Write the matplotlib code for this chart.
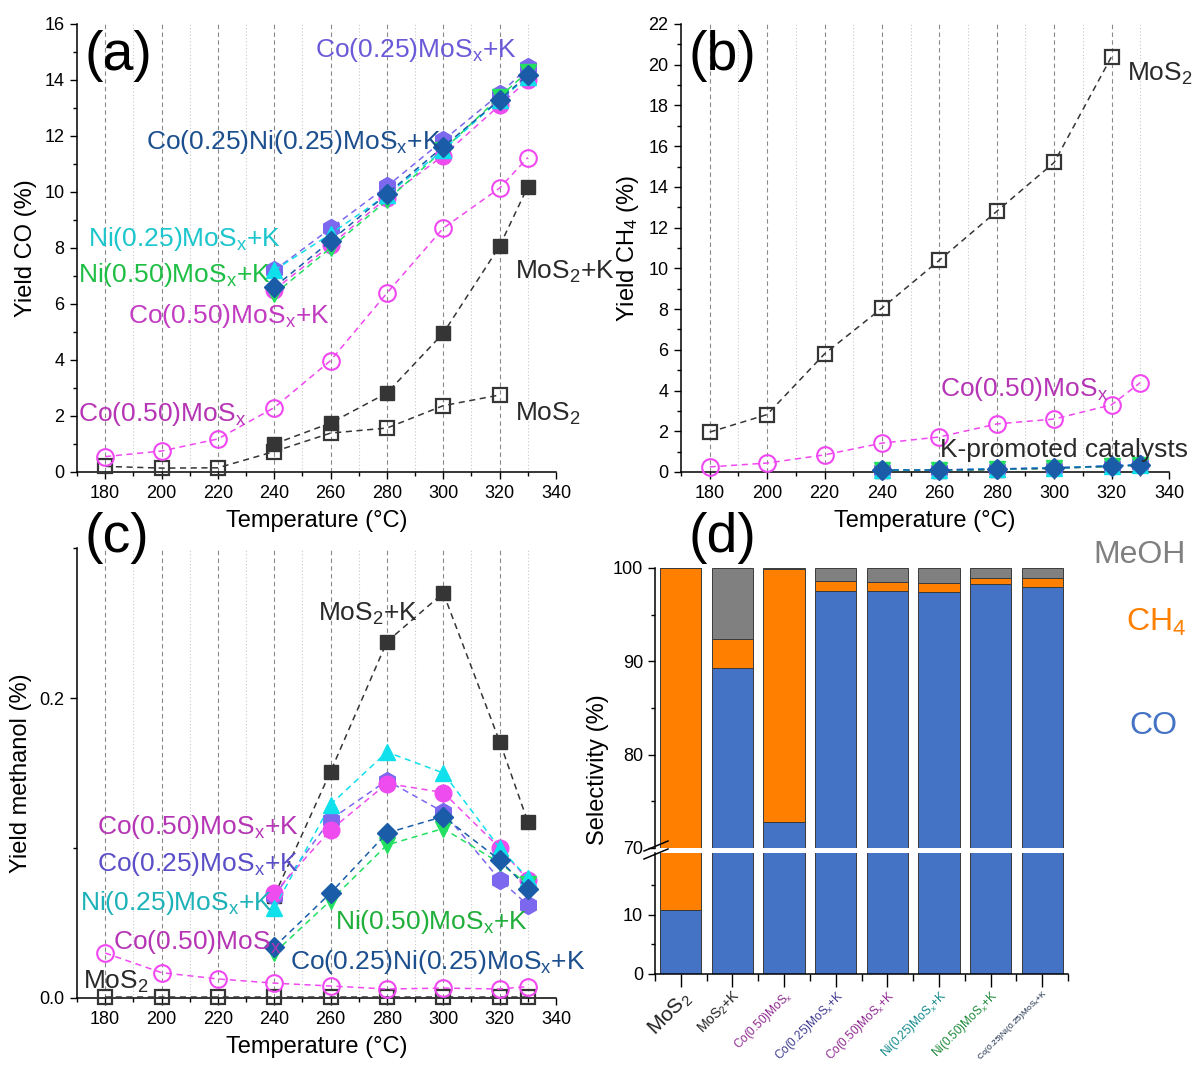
import matplotlib
matplotlib.use('Agg')
import matplotlib.pyplot as plt
from matplotlib.ticker import MultipleLocator, FixedLocator
from matplotlib.lines import Line2D

plt.rcParams['font.family'] = ['Liberation Sans', 'DejaVu Sans']
plt.rcParams['mathtext.fontset'] = 'custom'
plt.rcParams['mathtext.rm'] = 'Liberation Sans'
plt.rcParams['mathtext.it'] = 'Liberation Sans:italic'
plt.rcParams['mathtext.default'] = 'regular'

# ---------------- data ----------------
T_all = [180, 200, 220, 240, 260, 280, 300, 320, 330]
T_mos2 = [180, 200, 220, 240, 260, 280, 300, 320]
T_k = [240, 260, 280, 300, 320, 330]

# (a) Yield CO (%)
co_mos2 = [0.2, 0.14, 0.15, 0.73, 1.39, 1.57, 2.37, 2.75]
co_mos2k = [1.0, 1.75, 2.82, 4.96, 8.07, 10.19]
co_co050 = [0.55, 0.75, 1.18, 2.3, 3.98, 6.39, 8.71, 10.14, 11.23]
co_co050k = [6.5, 8.1, 9.8, 11.3, 13.1, 14.0]
co_co025k = [7.2, 8.7, 10.2, 11.85, 13.5, 14.45]
co_ni050k = [6.35, 8.0, 9.7, 11.5, 13.4, 14.3]
co_ni025k = [7.2, 8.5, 9.9, 11.5, 13.3, 14.1]
co_coni = [6.6, 8.25, 9.93, 11.62, 13.29, 14.18]

# (b) Yield CH4 (%)
ch4_mos2 = [1.96, 2.82, 5.8, 8.05, 10.4, 12.8, 15.2, 20.4]
ch4_co050 = [0.25, 0.44, 0.84, 1.42, 1.72, 2.36, 2.6, 3.3, 4.39]
ch4_mos2k = [0.05, 0.07, 0.12, 0.18, 0.28, 0.35]
ch4_co050k = [0.1, 0.1, 0.15, 0.2, 0.3, 0.35]
ch4_co025k = [0.1, 0.1, 0.15, 0.2, 0.3, 0.38]
ch4_ni050k = [0.08, 0.09, 0.13, 0.19, 0.28, 0.33]
ch4_ni025k = [0.1, 0.1, 0.15, 0.2, 0.3, 0.36]
ch4_coni = [0.1, 0.1, 0.14, 0.2, 0.29, 0.34]

# (c) Yield methanol (%)
me_mos2 = [0.001, 0.001, 0.001, 0.001, 0.001, 0.001, 0.001, 0.001, 0.001]
me_co050 = [0.030, 0.0169, 0.0127, 0.0099, 0.008, 0.006, 0.0066, 0.006, 0.0076]
me_mos2k = [0.068, 0.151, 0.2375, 0.27, 0.171, 0.1175]
me_co050k = [0.070, 0.112, 0.143, 0.137, 0.100, 0.079]
me_co025k = [0.068, 0.119, 0.145, 0.124, 0.079, 0.062]
me_ni050k = [0.030, 0.065, 0.102, 0.113, 0.090, 0.076]
me_ni025k = [0.060, 0.129, 0.164, 0.150, 0.100, 0.080]
me_coni = [0.034, 0.070, 0.110, 0.121, 0.092, 0.073]

# (d) Selectivity (%)
catalysts = [r'MoS$_2$', r'MoS$_2$+K', r'Co(0.50)MoS$_x$', r'Co(0.25)MoS$_x$+K',
             r'Co(0.50)MoS$_x$+K', r'Ni(0.25)MoS$_x$+K', r'Ni(0.50)MoS$_x$+K',
             r'Co(0.25)Ni(0.25)MoS$_x$+K']
sel_co = [10.8, 89.3, 72.8, 97.5, 97.5, 97.4, 98.3, 98.0]
sel_ch4 = [89.2, 3.1, 27.1, 1.1, 1.0, 1.0, 0.6, 0.9]
sel_meoh = [0.0, 7.6, 0.1, 1.4, 1.5, 1.6, 1.1, 1.1]

# ---------------- styles ----------------
DARK = '#353535'
st = {
    'mos2':   dict(color=DARK, marker='s', mfc='none', mec=DARK, ms=10, mew=1.6),
    'mos2k':  dict(color=DARK, marker='s', mfc=DARK, mec=DARK, ms=10, mew=1.0),
    'co050':  dict(color='#F048F0', marker='o', mfc='none', mec='#F048F0', ms=12, mew=1.5),
    'co050k': dict(color='#EE4CEE', marker='o', mfc='#EE4CEE', mec='#EE4CEE', ms=12, mew=1.0),
    'co025k': dict(color='#7B68EE', marker='h', mfc='#7B68EE', mec='#7B68EE', ms=13, mew=1.0),
    'ni050k': dict(color='#22E060', marker='v', mfc='#22E060', mec='#22E060', ms=12, mew=1.0),
    'ni025k': dict(color='#10E0EC', marker='^', mfc='#10E0EC', mec='#10E0EC', ms=12, mew=1.0),
    'coni':   dict(color='#1A5CA8', marker='D', mfc='#1A5CA8', mec='#1A5CA8', ms=10, mew=1.0),
}

W, H = 1193, 1065
fig = plt.figure(figsize=(W / 100, H / 100), dpi=100)

AXLAB = 17
TICKLAB = 13


def rect(l, r, t, b):
    return [l / W, 1 - b / H, (r - l) / W, (b - t) / H]


def style_line_axes(ax, ymax, ymajor, yminor):
    ax.set_xlim(170, 340)
    ax.set_ylim(0, ymax)
    ax.xaxis.set_major_locator(FixedLocator([180, 200, 220, 240, 260, 280, 300, 320, 340]))
    ax.xaxis.set_minor_locator(MultipleLocator(10))
    ax.yaxis.set_major_locator(MultipleLocator(ymajor))
    ax.yaxis.set_minor_locator(MultipleLocator(yminor))
    for s in ['top', 'right']:
        ax.spines[s].set_visible(False)
    for s in ['left', 'bottom']:
        ax.spines[s].set_linewidth(1.1)
    ax.tick_params(which='major', direction='out', length=5, width=1.0, labelsize=TICKLAB, pad=4)
    ax.tick_params(which='minor', direction='out', length=3, width=1.0)
    for x in [180, 200, 220, 240, 260, 280, 300, 320]:
        ax.axvline(x, color='#8a8a8a', lw=0.8, ls=(0, (4, 3)), zorder=0)
    for x in [190, 210, 230, 250, 270, 290, 310, 330]:
        ax.axvline(x, color='#c8c8c8', lw=0.8, ls=(0, (1, 2)), zorder=0)
    ax.set_xlabel('Temperature (°C)', fontsize=AXLAB, labelpad=6)


def plot_series(ax, x, y, key, z):
    s = st[key]
    ax.plot(x, y, ls=(0, (4, 3)), lw=1.1, color=s['color'], marker=s['marker'],
            mfc=s['mfc'], mec=s['mec'], ms=s['ms'], mew=s['mew'],
            clip_on=False, zorder=z)


# ---------------- (a) ----------------
axa = fig.add_axes(rect(77, 556, 24, 472))
style_line_axes(axa, 16, 2, 1)
plot_series(axa, T_mos2, co_mos2, 'mos2', 3)
plot_series(axa, T_k, co_mos2k, 'mos2k', 3)
plot_series(axa, T_all, co_co050, 'co050', 3)
plot_series(axa, T_k, co_co050k, 'co050k', 4)
plot_series(axa, T_k, co_co025k, 'co025k', 5)
plot_series(axa, T_k, co_ni050k, 'ni050k', 6)
plot_series(axa, T_k, co_ni025k, 'ni025k', 7)
plot_series(axa, T_k, co_coni, 'coni', 8)
axa.set_ylabel('Yield CO (%)', fontsize=AXLAB, labelpad=5)

# ---------------- (b) ----------------
axb = fig.add_axes(rect(681, 1169, 24, 472))
style_line_axes(axb, 22, 2, 1)
plot_series(axb, T_mos2, ch4_mos2, 'mos2', 3)
plot_series(axb, T_all, ch4_co050, 'co050', 3)
plot_series(axb, T_k, ch4_mos2k, 'mos2k', 3)
plot_series(axb, T_k, ch4_co050k, 'co050k', 4)
plot_series(axb, T_k, ch4_co025k, 'co025k', 5)
plot_series(axb, T_k, ch4_ni050k, 'ni050k', 6)
plot_series(axb, T_k, ch4_ni025k, 'ni025k', 7)
plot_series(axb, T_k, ch4_coni, 'coni', 8)
axb.set_ylabel(r'Yield CH$_4$ (%)', fontsize=AXLAB, labelpad=5)

# ---------------- (c) ----------------
axc = fig.add_axes(rect(77, 556, 548, 998))
style_line_axes(axc, 0.3, 0.2, 0.1)
axc.yaxis.set_major_formatter(matplotlib.ticker.FormatStrFormatter('%.1f'))
plot_series(axc, T_all, me_mos2, 'mos2', 3)
plot_series(axc, T_all, me_co050, 'co050', 3)
plot_series(axc, T_k, me_mos2k, 'mos2k', 3)
plot_series(axc, T_k, me_co025k, 'co025k', 4)
plot_series(axc, T_k, me_co050k, 'co050k', 5)
plot_series(axc, T_k, me_ni050k, 'ni050k', 6)
plot_series(axc, T_k, me_ni025k, 'ni025k', 7)
plot_series(axc, T_k, me_coni, 'coni', 8)
axc.set_ylabel('Yield methanol (%)', fontsize=AXLAB, labelpad=5)

# ---------------- (d) ----------------
axd_top = fig.add_axes(rect(655, 1068, 568, 848))
axd_bot = fig.add_axes(rect(655, 1068, 853, 974))
C_CO, C_CH4, C_ME = '#4472C4', '#FF8000', '#808080'
xs = list(range(len(catalysts)))
bottom_ch4 = [a for a in sel_co]
bottom_me = [a + b for a, b in zip(sel_co, sel_ch4)]
for ax in (axd_top, axd_bot):
    ax.bar(xs, sel_co, width=0.8, color=C_CO, edgecolor='#3a3a3a', lw=0.7)
    ax.bar(xs, sel_ch4, width=0.8, bottom=bottom_ch4, color=C_CH4, edgecolor='#3a3a3a', lw=0.7)
    ax.bar(xs, sel_meoh, width=0.8, bottom=bottom_me, color=C_ME, edgecolor='#3a3a3a', lw=0.7)
    ax.set_xlim(-0.5, 7.5)
    for s in ['top', 'right']:
        ax.spines[s].set_visible(False)
    ax.spines['left'].set_linewidth(1.1)
    ax.spines['bottom'].set_linewidth(1.1)
    ax.tick_params(which='major', direction='out', length=5, width=1.0, labelsize=TICKLAB)
    ax.tick_params(which='minor', direction='out', length=3, width=1.0)

axd_top.set_ylim(70, 100)
axd_top.yaxis.set_major_locator(MultipleLocator(10))
axd_top.yaxis.set_minor_locator(MultipleLocator(5))
axd_top.spines['bottom'].set_visible(False)
axd_top.tick_params(axis='x', which='both', bottom=False, labelbottom=False)

axd_bot.set_ylim(0, 20.5)
axd_bot.yaxis.set_major_locator(FixedLocator([0, 10]))
axd_bot.yaxis.set_minor_locator(FixedLocator([5, 15]))
axd_bot.set_xticks(xs)
axd_bot.xaxis.set_minor_locator(FixedLocator([i - 0.5 for i in range(len(catalysts) + 1)]))
axd_bot.tick_params(axis='x', which='major', length=9, pad=1)
axd_bot.tick_params(axis='x', which='minor', length=5)
axd_bot.set_xticklabels(catalysts, rotation=45, ha='right', rotation_mode='anchor')
lab_colors = ['#222222', '#222222', '#8E2A90', '#3F3A90', '#8E2A90', '#138A8C', '#1E8A3A', '#10243F']
lab_sizes = [15, 10, 8.5, 8.5, 8.5, 8.5, 8.5, 6]
for t, c, s in zip(axd_bot.get_xticklabels(), lab_colors, lab_sizes):
    t.set_color(c)
    t.set_fontsize(s)

# break marks
for yb in (846, 854):
    fig.add_artist(Line2D([644 / W, 668 / W], [1 - (yb + 5) / H, 1 - (yb - 5) / H],
                          color='black', lw=1.1, transform=fig.transFigure))

fig.text(598 / W, 1 - 770 / H, 'Selectivity (%)', rotation=90, fontsize=AXLAB, ha='center', va='center')
fig.text(1186 / W, 1 - 555 / H, 'MeOH', color='#808080', fontsize=23, ha='right', va='center')
fig.text(1126 / W, 1 - 622 / H, r'CH$_4$', color='#FF8000', fontsize=23, ha='left', va='center')
fig.text(1129 / W, 1 - 726 / H, 'CO', color='#4472C4', fontsize=23, ha='left', va='center')

# ---------------- annotations ----------------
FS = 19


def ftext(x, y, s, c, ha='left', fs=FS):
    fig.text(x / W, 1 - y / H, s, color=c, fontsize=fs, ha=ha, va='center')


# panel letters
ftext(84, 56, '(a)', 'black', fs=40)
ftext(689, 56, '(b)', 'black', fs=40)
ftext(84, 538, '(c)', 'black', fs=40)
ftext(689, 538, '(d)', 'black', fs=40)

# (a)
ftext(315, 50, r'Co(0.25)MoS$_x$+K', '#6A5AD8')
ftext(146, 142, r'Co(0.25)Ni(0.25)MoS$_x$+K', '#1C4F8E')
ftext(88, 239, r'Ni(0.25)MoS$_x$+K', '#1CC6CC')
ftext(78, 275, r'Ni(0.50)MoS$_x$+K', '#1FBF45')
ftext(128, 316, r'Co(0.50)MoS$_x$+K', '#C23CC2')
ftext(515, 272, r'MoS$_2$+K', '#2a2a2a')
ftext(78, 414, r'Co(0.50)MoS$_x$', '#B535B5')
ftext(515, 414, r'MoS$_2$', '#2a2a2a')

# (b)
ftext(1127, 74, r'MoS$_2$', '#2a2a2a')
ftext(940, 389, r'Co(0.50)MoS$_x$', '#B535B5')
ftext(940, 450, 'K-promoted catalysts', '#2a2a2a')

# (c)
ftext(318, 614, r'MoS$_2$+K', '#2a2a2a')
ftext(97, 827, r'Co(0.50)MoS$_x$+K', '#B535B5')
ftext(97, 864, r'Co(0.25)MoS$_x$+K', '#5B4FC8')
ftext(80, 903, r'Ni(0.25)MoS$_x$+K', '#1CB2B8')
ftext(335, 922, r'Ni(0.50)MoS$_x$+K', '#1FAF3A')
ftext(113, 942, r'Co(0.50)MoS$_x$', '#B535B5')
ftext(290, 962, r'Co(0.25)Ni(0.25)MoS$_x$+K', '#1C4F8E')
ftext(83, 982, r'MoS$_2$', '#2a2a2a')

fig.savefig('out.png', dpi=100)
